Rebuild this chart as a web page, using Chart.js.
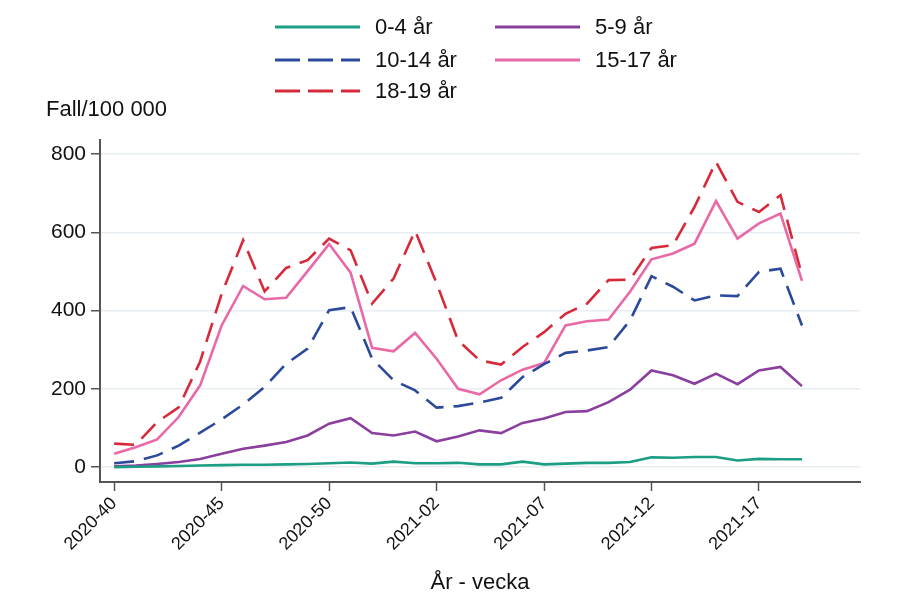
<!DOCTYPE html>
<html>
<head>
<meta charset="utf-8">
<script src="https://cdn.jsdelivr.net/npm/chart.js@4/dist/chart.umd.min.js"></script>
<style>
  html, body { margin: 0; padding: 0; background: #fff; }
  #wrap { width: 901px; height: 600px; }
</style>
</head>
<body>
<div id="wrap"><canvas id="chart"></canvas></div>
<script>
// weeks 2020-40 .. 2021-19 (2020 has 53 ISO weeks)
const weeks = [
  "2020-40","2020-41","2020-42","2020-43","2020-44","2020-45","2020-46","2020-47","2020-48","2020-49",
  "2020-50","2020-51","2020-52","2020-53","2021-01","2021-02","2021-03","2021-04","2021-05","2021-06",
  "2021-07","2021-08","2021-09","2021-10","2021-11","2021-12","2021-13","2021-14","2021-15","2021-16",
  "2021-17","2021-18","2021-19"
]
const xTickLabels = ["2020-40","2020-45","2020-50","2021-02","2021-07","2021-12","2021-17"]
const yTicks = [0, 200, 400, 600, 800]

const age0_4 = [0,1,2,3,4,5,6,6,7,8,10,12,9,14,10,10,11,7,7,14,7,9,11,11,13,25,24,26,26,17,21,20,20]
const age5_9 = [2,4,8,13,21,34,47,55,64,81,111,125,87,81,91,66,78,94,87,113,124,141,143,166,198,247,235,213,239,212,247,256,207]
const age10_14 = [10,15,30,55,88,122,160,205,264,303,401,409,277,222,196,152,156,165,177,230,263,292,298,307,375,488,461,426,439,437,499,507,362]
const age15_17 = [34,51,71,128,209,362,463,429,433,501,570,497,305,296,343,277,200,186,222,249,266,362,373,377,448,531,546,571,680,584,623,648,476]
const age18_19 = [60,57,115,153,270,443,580,449,509,529,584,554,418,482,604,470,324,273,262,307,345,392,418,478,479,560,567,665,780,678,652,695,490]

const FONT = "'Liberation Sans', Arial, sans-serif"

function series(label, values, color, dash) {
  return {
    label: label,
    data: values.map((v, i) => ({x: i, y: v})),
    borderColor: color,
    backgroundColor: color,
    borderWidth: 2.6,
    borderDash: dash,
    pointRadius: 0,
    tension: 0
  }
}

// legend drawn in two columns like the original
const legendPlugin = {
  id: "legendGrid",
  afterDraw(chart) {
    const ctx = chart.ctx
    const cols = [275, 495]
    const rows = [27, 60, 91]
    ctx.save()
    chart.data.datasets.forEach((ds, i) => {
      const x = cols[i % 2], y = rows[Math.floor(i / 2)]
      ctx.strokeStyle = ds.borderColor
      ctx.lineWidth = 3
      ctx.setLineDash(ds.borderDash.length ? [25, 8] : [])
      ctx.beginPath()
      ctx.moveTo(x, y)
      ctx.lineTo(x + 85, y)
      ctx.stroke()
      ctx.setLineDash([])
      ctx.fillStyle = "#111"
      ctx.font = "22px " + FONT
      ctx.textBaseline = "middle"
      ctx.fillText(ds.label, x + 100, y + 1)
    })
    ctx.font = "22px " + FONT
    ctx.textBaseline = "middle"
    ctx.fillText("Fall/100 000", 46, 110)
    ctx.restore()
  }
}

new Chart(document.getElementById("chart").getContext("2d"), {
  type: "line",
  data: {
    datasets: [
      series("0-4 år", age0_4, "#1b9e84", []),
      series("5-9 år", age5_9, "#8a3f9e", []),
      series("10-14 år", age10_14, "#2b4a9b", [20, 10]),
      series("15-17 år", age15_17, "#e968a6", []),
      series("18-19 år", age18_19, "#d62a3a", [20, 10])
    ]
  },
  options: {
    responsive: true,
    maintainAspectRatio: false,
    animation: false,
    layout: {padding: {left: 0, top: 140, right: 41, bottom: 0}},
    plugins: {legend: {display: false}, tooltip: {enabled: false}},
    scales: {
      x: {
        type: "linear",
        min: -0.66,
        max: 34.7,
        afterBuildTicks: scale => {
          scale.ticks = xTickLabels.map(l => ({value: weeks.indexOf(l)}))
        },
        afterFit: scale => { scale.height = 118 },
        border: {color: "#555", width: 2},
        grid: {drawOnChartArea: false, tickLength: 9, tickColor: "#555", tickWidth: 1.5},
        ticks: {
          minRotation: 45, maxRotation: 45, padding: 2,
          color: "#111", font: {family: FONT, size: 18},
          callback: v => weeks[v]
        },
        title: {display: true, text: "År - vecka", color: "#111", font: {family: FONT, size: 22}, padding: {top: 4}}
      },
      y: {
        min: -38,
        max: 836,
        afterBuildTicks: scale => {
          scale.ticks = yTicks.map(v => ({value: v}))
        },
        afterFit: scale => { scale.width = 100 },
        border: {color: "#555", width: 2},
        grid: {color: "#e6eef2", lineWidth: 1.5, tickLength: 9, tickColor: "#555", tickWidth: 1.5},
        ticks: {color: "#111", padding: 5, font: {family: FONT, size: 21}}
      }
    }
  },
  plugins: [legendPlugin]
})
</script>
</body>
</html>
